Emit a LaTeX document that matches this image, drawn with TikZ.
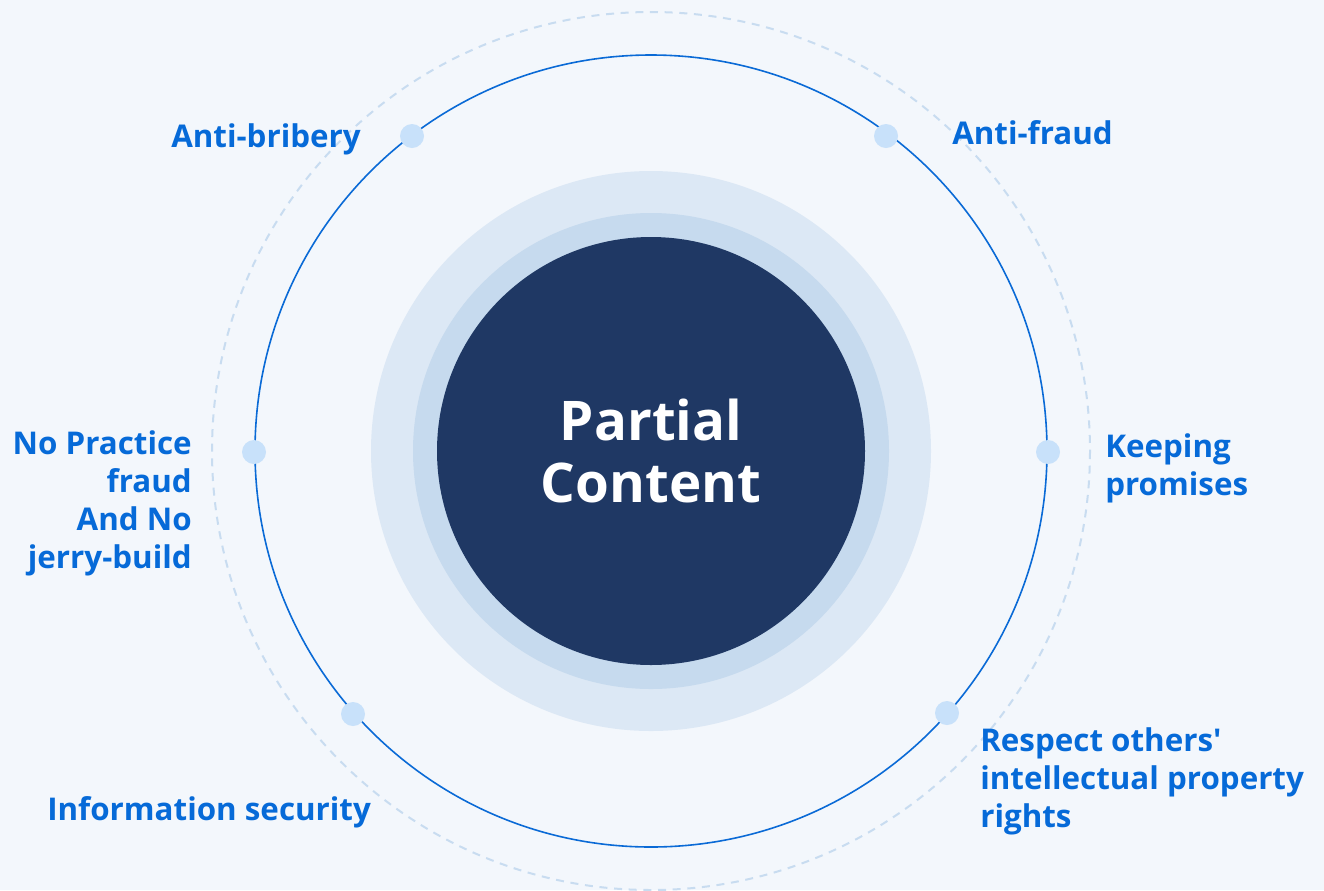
\documentclass[tikz,border=0pt]{standalone}
\usepackage{fontspec}
\setmainfont{Open Sans}
\definecolor{bg}{HTML}{F3F7FC}
\definecolor{txtblue}{HTML}{066AD8}
\definecolor{ringblue}{HTML}{0A6AD6}
\definecolor{dashblue}{HTML}{C8DCF0}
\definecolor{dotblue}{HTML}{C8E1FA}
\definecolor{haloA}{HTML}{DCE8F5}
\definecolor{haloB}{HTML}{C6DAEE}
\definecolor{core}{HTML}{1F3864}
\newcommand\straightquote{\XeTeXglyph\XeTeXcharglyph"27\relax}
\tikzset{
  lbl/.style={font=\fontsize{23.5}{28.5}\selectfont\bfseries, text=txtblue, inner sep=0pt},
  dotnode/.style={circle, fill=dotblue, minimum size=18pt, inner sep=0pt},
}
\begin{document}
\begin{tikzpicture}[x=0.75pt,y=-0.75pt]
\fill[bg] (0,0) rectangle (1324,890);
\useasboundingbox (0,0) rectangle (1324,890);
\coordinate (c) at (651,451);
\draw[dashblue, line width=1.5pt, dash pattern=on 6pt off 5pt] (c) circle[radius=439];
\node[circle, fill=haloA, minimum size=420pt, inner sep=0pt] (halo1) at (c) {};
\node[circle, fill=haloB, minimum size=357pt, inner sep=0pt] (halo2) at (c) {};
\node[circle, fill=core, minimum size=321pt, inner sep=0pt, text=white, align=center,
      font=\fontsize{41}{47}\selectfont\bfseries] (core) at (c) {Partial\\Content};
\draw[ringblue, line width=1.2pt] (c) circle[radius=396];
\node[dotnode] (d1) at (412,136) {};
\node[dotnode] (d2) at (886,136) {};
\node[dotnode] (d3) at (254,452) {};
\node[dotnode] (d4) at (1048,452) {};
\node[dotnode] (d5) at (353,714) {};
\node[dotnode] (d6) at (947,713) {};
\node[lbl, anchor=east] (l1) at (361,139) {Anti-bribery};
\node[lbl, anchor=west] (l2) at (952,133) {Anti-fraud};
\node[lbl, anchor=east, align=right] (l3) at (192,503) {No Practice\\fraud\\And No\\jerry-build};
\node[lbl, anchor=west, align=left] (l4) at (1105,468) {Keeping\\promises};
\node[lbl, anchor=west] (l5) at (47,812) {Information security};
\node[lbl, anchor=west, align=left] (l6) at (980,781) {Respect others\straightquote\\intellectual property\\rights};
\end{tikzpicture}
\end{document}
